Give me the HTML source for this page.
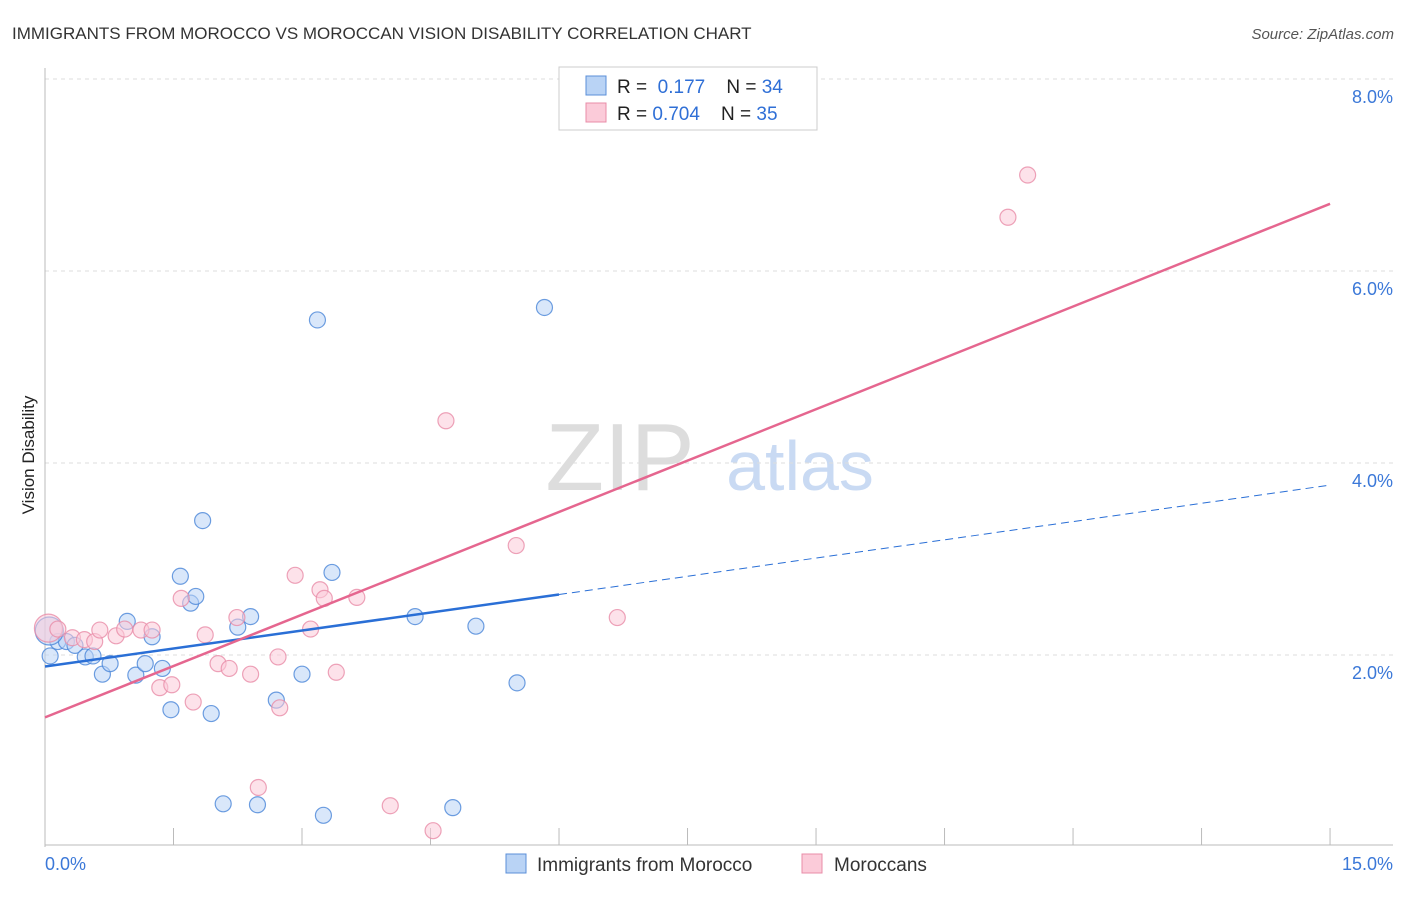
<!DOCTYPE html>
<html><head><meta charset="utf-8"><style>
body{margin:0;background:#fff;font-family:"Liberation Sans",sans-serif}
svg text{font-family:"Liberation Sans",sans-serif}
</style></head><body>
<svg id="c" width="1406" height="892" xmlns="http://www.w3.org/2000/svg">
<text x="12" y="39" font-size="17" fill="#333">IMMIGRANTS FROM MOROCCO VS MOROCCAN VISION DISABILITY CORRELATION CHART</text>
<text x="1394" y="39" font-size="15" fill="#555" font-style="italic" text-anchor="end">Source: ZipAtlas.com</text>
<text x="34" y="455" font-size="17" fill="#222" transform="rotate(-90 34 455)" text-anchor="middle">Vision Disability</text>
<text x="620" y="490" font-size="96" fill="#ddd" font-family="Liberation Serif" text-anchor="middle">ZIP</text>
<text x="800" y="490" font-size="70" fill="#c9daf3" text-anchor="middle">atlas</text>
<g id="grid"></g><g id="axes"></g><g id="pts"></g><g id="lines"></g>
<g>
<rect x="559" y="67" width="258" height="63" fill="#fff" stroke="#ccc"/>
<rect x="586" y="76" width="20" height="19" fill="#b9d3f5" stroke="#5b8fd8"/>
<rect x="586" y="103" width="20" height="19" fill="#fbcbd9" stroke="#e88ca8"/>
<text x="617" y="93" font-size="19" fill="#222">R = <tspan fill="#2f6fd6">&#160;0.177</tspan>&#160;&#160;&#160; N = <tspan fill="#2f6fd6">34</tspan></text>
<text x="617" y="120" font-size="19" fill="#222">R = <tspan fill="#2f6fd6">0.704</tspan>&#160;&#160;&#160; N = <tspan fill="#2f6fd6">35</tspan></text>
</g>
<g>
<rect x="506" y="854" width="20" height="19" fill="#b9d3f5" stroke="#5b8fd8"/>
<text x="537" y="871" font-size="19" fill="#333">Immigrants from Morocco</text>
<rect x="802" y="854" width="20" height="19" fill="#fbcbd9" stroke="#e88ca8"/>
<text x="834" y="871" font-size="19" fill="#333">Moroccans</text>
</g>
<text x="45" y="870" font-size="18" fill="#3b78d8">0.0%</text>
<text x="1393" y="870" font-size="18" fill="#3b78d8" text-anchor="end">15.0%</text>
</svg>
<script>
const yTicks=[2,4,6,8];
const yTickLabels=["2.0%","4.0%","6.0%","8.0%"];
const blueX=[0.06,0.15,0.25,0.35,0.47,0.56,0.67,0.76,0.96,1.06,1.17,1.25,1.37,1.47,1.58,1.70,1.76,1.84,1.94,2.08,2.25,2.40,2.48,2.70,3.00,3.18,3.25,3.35,4.32,4.76,5.03,5.51,5.83,0.05];
const blueY=[1.99,2.14,2.14,2.10,1.98,1.99,1.80,1.91,2.35,1.79,1.91,2.19,1.86,1.43,2.82,2.54,2.61,3.40,1.39,0.45,2.29,2.40,0.44,1.53,1.80,5.49,0.33,2.86,2.40,0.41,2.30,1.71,5.62,2.25];
const pinkX=[0.04,0.15,0.32,0.46,0.58,0.64,0.83,0.93,1.12,1.25,1.34,1.48,1.59,1.73,1.87,2.02,2.15,2.24,2.40,2.49,2.72,2.74,2.92,3.10,3.21,3.26,3.40,3.64,4.03,4.53,4.68,5.50,6.68,11.24,11.47];
const pinkY=[2.28,2.27,2.18,2.16,2.14,2.26,2.20,2.27,2.26,2.26,1.66,1.69,2.59,1.51,2.21,1.91,1.86,2.39,1.80,0.62,1.98,1.45,2.83,2.27,2.68,2.59,1.82,2.60,0.43,0.17,4.44,3.14,2.39,6.56,7.00];
const blueLine=[0,1.88,6.0,2.63,15,3.77];
const pinkLine=[0,1.35,15,6.70];
const X=v=>45+v*85.67, Y=v=>847-v*96;
const NS="http://www.w3.org/2000/svg";
function mk(t,a,p){const e=document.createElementNS(NS,t);for(const k in a)e.setAttribute(k,a[k]);p.appendChild(e);return e;}
const grid=document.getElementById('grid'),axes=document.getElementById('axes'),pts=document.getElementById('pts'),lines=document.getElementById('lines');
yTicks.forEach((t,i)=>{
 const l=mk('line',{x1:45,x2:1393,y1:Y(t),y2:Y(t),stroke:'#ddd','stroke-dasharray':'4,4'},grid);
 
 
 const tx=mk('text',{x:1393,y:Y(t)+24,'font-size':18,fill:'#3b78d8','text-anchor':'end'},grid);
 tx.textContent=yTickLabels[i];
 
 
});
const ax=mk('line',{x1:45,x2:45,y1:68,y2:847,stroke:'#bbb'},axes);


const bx=mk('line',{x1:45,x2:1393,y1:845,y2:845,stroke:'#bbb'},axes);


for(let i=1;i<=10;i++){const t=mk('line',{x1:X(i*1.5),x2:X(i*1.5),y1:828,y2:845,stroke:'#bbb'},axes);
 
 }
function dot(x,y,f,s,r,name){const c=mk('circle',{cx:X(x),cy:Y(y),r:r,fill:f,'fill-opacity':0.55,stroke:s,'stroke-opacity':0.8,'stroke-width':1.2},pts);
 
 }
blueX.forEach((x,i)=>dot(x,blueY[i],'#b9d3f5','#4a86d8',i==33?14:8,'blue-point'));
pinkX.forEach((x,i)=>dot(x,pinkY[i],'#fbcbd9','#e88ca8',i==0?14:8,'pink-point'));
const b1=mk('line',{x1:X(blueLine[0]),y1:Y(blueLine[1]),x2:X(blueLine[2]),y2:Y(blueLine[3]),stroke:'#2a6fd6','stroke-width':2.5},lines);


const b2=mk('line',{x1:X(blueLine[2]),y1:Y(blueLine[3]),x2:X(blueLine[4]),y2:Y(blueLine[5]),stroke:'#2a6fd6','stroke-width':1,'stroke-dasharray':'8,5'},lines);


const p1=mk('line',{x1:X(pinkLine[0]),y1:Y(pinkLine[1]),x2:X(pinkLine[2]),y2:Y(pinkLine[3]),stroke:'#e5668f','stroke-width':2.5},lines);


</script>
</body></html>
